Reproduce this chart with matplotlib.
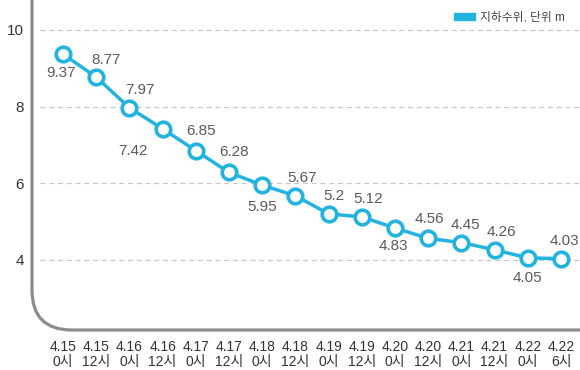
import matplotlib
matplotlib.use('Agg')
import matplotlib.pyplot as plt
from matplotlib.patches import Patch, PathPatch
from matplotlib.path import Path

plt.rcParams['font.family'] = ['Liberation Sans', 'Noto Sans CJK KR', 'DejaVu Sans']

dates = ['4.15', '4.15', '4.16', '4.16', '4.17', '4.17', '4.18', '4.18',
         '4.19', '4.19', '4.20', '4.20', '4.21', '4.21', '4.22', '4.22']
hours = ['0시', '12시', '0시', '12시', '0시', '12시', '0시', '12시',
         '0시', '12시', '0시', '12시', '0시', '12시', '0시', '6시']
levels = [9.37, 8.77, 7.97, 7.42, 6.85, 6.28, 5.95, 5.67,
          5.2, 5.12, 4.83, 4.56, 4.45, 4.26, 4.05, 4.03]
yticks = [4, 6, 8, 10]

# label offsets in pixels (dx, dy; dy positive = down)
offsets = [(-2, 19), (10, -17), (11, -18), (-30, 22), (5, -20), (5, -20),
           (0, 22), (7, -18), (5, -18), (6, -18), (-2, 18), (1, -19),
           (4, -18), (7, -18), (0, 20), (3, -18)]

W, H = 580, 370
blue = '#22b3e0'
fig = plt.figure(figsize=(W / 100, H / 100), dpi=100)
ax = fig.add_axes([32 / W, (H - 330) / H, (W - 32) / W, 330 / H])

x = list(range(len(levels)))
ax.set_xlim((32 - 63) / 33.2, (580 - 63) / 33.2)
ax.set_ylim(10 - (330 - 30) / 38.3, 10 + 30 / 38.3)

ax.hlines(yticks, (40 - 63) / 33.2, (580 - 63) / 33.2, colors='#c8c8c8',
          linestyles=(0, (4, 3)), linewidth=0.9, zorder=1)

ax.plot(x, levels, color=blue, lw=2.5, marker='o', ms=10.5, mew=2.6,
        mfc='white', mec=blue, zorder=3, clip_on=False)

for i, v in enumerate(levels):
    dx, dy = offsets[i]
    ax.annotate(f'{v:g}', (i, v), xytext=(dx * 0.72, -dy * 0.72),
                textcoords='offset points', ha='center', va='center',
                fontsize=11, color='#5a5a5a')

for s in ax.spines.values():
    s.set_visible(False)
ax.set_xticks(x)
ax.set_xticklabels([f'{d}\n{h}' for d, h in zip(dates, hours)],
                   fontsize=10, color='#333333', linespacing=1.15)
ax.set_yticks(yticks)
ax.set_yticklabels([str(t) for t in yticks], fontsize=11, color='#333333')
ax.tick_params(axis='both', length=0)
ax.tick_params(axis='x', pad=7)
ax.tick_params(axis='y', pad=6)

# rounded axis frame (left + bottom)
r = 40
px = lambda a, b: (a / W, 1 - b / H)
verts = [px(32, -5), px(32, 330 - r), px(32, 330), px(32 + r, 330), px(W + 5, 330)]
codes = [Path.MOVETO, Path.LINETO, Path.CURVE3, Path.CURVE3, Path.LINETO]
fig.patches.append(PathPatch(Path(verts, codes), transform=fig.transFigure,
                             fill=False, edgecolor='#8c8c8c', lw=2.3))

fig.legend(handles=[Patch(color=blue, label='지하수위, 단위 m')],
           loc='upper right', bbox_to_anchor=(576 / W, 1 - 1 / H),
           frameon=False, fontsize=8.5, handlelength=1.75, handleheight=0.6,
           handletextpad=0.5, labelcolor='#444444')

fig.savefig('out.png', dpi=100, facecolor='white')
